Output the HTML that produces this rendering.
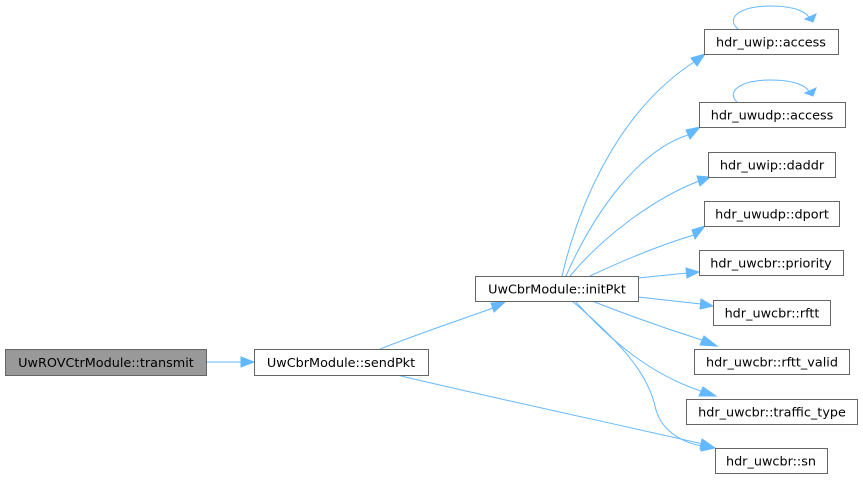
<!DOCTYPE html>
<html><head><meta charset="utf-8"><style>
body{margin:0;background:#fff;}
svg text{font-family:"DejaVu Sans","Liberation Sans",sans-serif;font-size:12.8px;fill:#000;}
.n{fill:#fff;stroke:#666;stroke-width:1;}
.e{fill:none;stroke:#63b8ff;stroke-width:1;}
.a{fill:#63b8ff;stroke:#63b8ff;}
</style></head><body>
<svg width="863" height="479" viewBox="0 0 863 479" xmlns="http://www.w3.org/2000/svg">
<path class="e" d="M206,362 L242,362"/><polygon class="a" points="241,357 254,362 241,367"/>
<path class="e" d="M380,349 C420,333 460,320 493,308"/><polygon class="a" points="491,303 505,302 494,312"/>
<path class="e" d="M397,375 C480,395 620,425 703,444"/><polygon class="a" points="702,439 715,448 700,449"/>
<path class="e" d="M562,276 C580,200 620,110 694,62"/><polygon class="a" points="691,58 705,54 697,66"/>
<path class="e" d="M566,276 C595,210 640,150 688,135"/><polygon class="a" points="686,130 700,127 690,139"/>
<path class="e" d="M570,276 C600,240 650,200 699,181"/><polygon class="a" points="697,176 710,177 700,186"/>
<path class="e" d="M590,276 C620,262 660,245 694,235"/><polygon class="a" points="692,230 705,226 695,239"/>
<path class="e" d="M638,278 L687,273"/><polygon class="a" points="686,268 699,272 687,278"/>
<path class="e" d="M638,297 L701,304"/><polygon class="a" points="701,299 713,306 700,309"/>
<path class="e" d="M592,301 C630,316 670,330 705,341"/><polygon class="a" points="704,336 717,346 700,345"/>
<path class="e" d="M575,301 C610,340 650,375 704,392"/><polygon class="a" points="703,387 716,396 699,396"/>
<path class="e" d="M572,301 C630,350 650,380 656,410 C662,430 680,442 702,446"/><polygon class="a" points="702,441 715,448 701,451"/>
<path class="e" d="M738,29 C725,18 740,6 770,6 C795,6 808,12 810,20"/><polygon class="a" points="805,19 813,22 816,14 "/>
<path class="e" d="M738,103 C725,92 740,80 770,80 C795,80 808,86 810,94"/><polygon class="a" points="805,93 813,96 816,88"/>
<rect x="5.5" y="349.5" width="201" height="26" style="fill:#999;stroke:#666"/>
<text x="106" y="367" text-anchor="middle">UwROVCtrModule::transmit</text>
<rect class="n" x="254.5" y="349.5" width="174" height="26"/>
<text x="341" y="367" text-anchor="middle">UwCbrModule::sendPkt</text>
<rect class="n" x="475.5" y="276.5" width="163" height="25"/>
<text x="557" y="293.5" text-anchor="middle">UwCbrModule::initPkt</text>
<rect class="n" x="704.5" y="29.5" width="134" height="25"/>
<text x="771" y="46.5" text-anchor="middle">hdr_uwip::access</text>
<rect class="n" x="699.5" y="102.5" width="146" height="25"/>
<text x="772" y="119.5" text-anchor="middle">hdr_uwudp::access</text>
<rect class="n" x="708.5" y="152.5" width="127" height="25"/>
<text x="772" y="169.5" text-anchor="middle">hdr_uwip::daddr</text>
<rect class="n" x="704.5" y="201.5" width="135" height="25"/>
<text x="772" y="218.5" text-anchor="middle">hdr_uwudp::dport</text>
<rect class="n" x="699.5" y="250.5" width="144" height="25"/>
<text x="771" y="267.5" text-anchor="middle">hdr_uwcbr::priority</text>
<rect class="n" x="713.5" y="300.5" width="117" height="25"/>
<text x="772" y="317.5" text-anchor="middle">hdr_uwcbr::rftt</text>
<rect class="n" x="694.5" y="349.5" width="155" height="25"/>
<text x="772" y="366.5" text-anchor="middle">hdr_uwcbr::rftt_valid</text>
<rect class="n" x="686.5" y="399.5" width="171" height="25"/>
<text x="772" y="416.5" text-anchor="middle">hdr_uwcbr::traffic_type</text>
<rect class="n" x="715.5" y="448.5" width="112" height="25"/>
<text x="771" y="465.5" text-anchor="middle">hdr_uwcbr::sn</text>
</svg>
</body></html>
